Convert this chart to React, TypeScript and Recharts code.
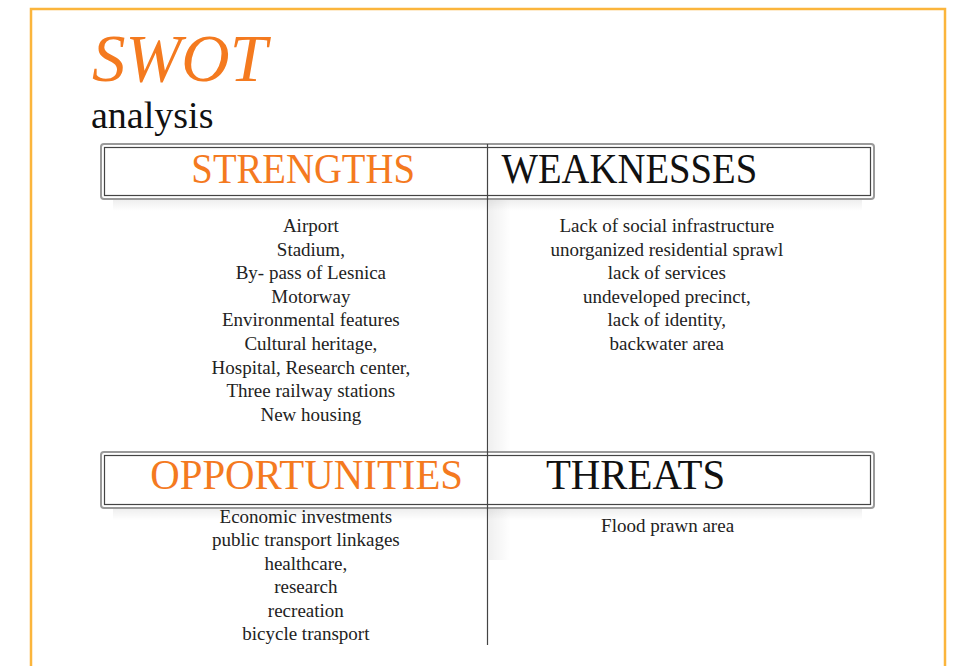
import React from "react";
import {
  ScatterChart,
  Scatter,
  XAxis,
  YAxis,
  ReferenceArea,
  ReferenceLine,
  Customized,
} from "recharts";

// quadrant content
const strengths = [
  "Airport",
  "Stadium,",
  "By- pass of Lesnica",
  "Motorway",
  "Environmental features",
  "Cultural heritage,",
  "Hospital, Research center,",
  "Three railway stations",
  "New housing",
];
const weaknesses = [
  "Lack of social infrastructure",
  "unorganized residential sprawl",
  "lack of services",
  "undeveloped precinct,",
  "lack of identity,",
  "backwater area",
];
const opportunities = [
  "Economic investments",
  "public transport linkages",
  "healthcare,",
  "research",
  "recreation",
  "bicycle transport",
];
const threats = ["Flood prawn area"];

const quadrantTitles = ["STRENGTHS", "WEAKNESSES", "OPPORTUNITIES", "THREATS"];
const quadrantItems = [strengths, weaknesses, opportunities, threats];

const titleMain = "SWOT";
const titleSub = "analysis";

// layout (x in quadrant-column units 0..2, y in page rows)
const W = 953;
const H = 666;
const ORANGE = "#f47a1f";
const FRAME = "#fbb53c";
const FONT = "'Liberation Serif', 'Times New Roman', serif";

const headerRows = [
  { top: 144, bottom: 199, baseline: 183, squeeze: 0.9 },
  { top: 452, bottom: 508, baseline: 489, squeeze: 0.95 },
];
const headerX = [0.523, 1.367, 0.532, 1.383];
const itemX = [0.543, 1.464, 0.53, 1.466];
const itemTop = [232, 232, 523, 532];
const itemStep = [23.6, 23.6, 23.4, 23.4];

const headerData = quadrantTitles.map((label, i) => ({
  x: headerX[i],
  y: headerRows[Math.floor(i / 2)].baseline,
  label,
  row: Math.floor(i / 2),
  orange: i % 2 === 0,
}));

const itemData = quadrantItems.flatMap((list, q) =>
  list.map((label, i) => ({
    x: itemX[q],
    y: itemTop[q] + i * itemStep[q],
    label,
  }))
);

const HeaderText = (props: any) => {
  const { cx, cy, payload } = props;
  const s = headerRows[payload.row].squeeze;
  return (
    <text
      transform={`translate(${cx},${cy}) scale(${s},1)`}
      textAnchor="middle"
      fontFamily={FONT}
      fontSize={43}
      fill={payload.orange ? ORANGE : "#111"}
    >
      {payload.label}
    </text>
  );
};

const ItemText = (props: any) => {
  const { cx, cy, payload } = props;
  return (
    <text
      x={cx}
      y={cy}
      textAnchor="middle"
      fontFamily={FONT}
      fontSize={19}
      fill="#222"
    >
      {payload.label}
    </text>
  );
};

const HeaderBox = (props: any) => {
  const { x, y, width, height } = props;
  return (
    <g>
      <rect x={x + 12} y={y + height} width={width - 24} height={12} fill="url(#shadowDown)" />
      <rect x={x} y={y} width={width} height={height} rx={3} fill="#fff" stroke="#9a9a9a" strokeWidth={2} />
      <rect x={x + 3.5} y={y + 3.5} width={width - 7} height={height - 7} fill="none" stroke="#444" strokeWidth={1.2} />
    </g>
  );
};

const Decor = () => (
  <g>
    <defs>
      <linearGradient id="shadowDown" x1="0" y1="0" x2="0" y2="1">
        <stop offset="0%" stopColor="#000" stopOpacity={0.07} />
        <stop offset="100%" stopColor="#000" stopOpacity={0} />
      </linearGradient>
      <linearGradient id="shadowRight" x1="0" y1="0" x2="1" y2="0">
        <stop offset="0%" stopColor="#000" stopOpacity={0.06} />
        <stop offset="100%" stopColor="#000" stopOpacity={0} />
      </linearGradient>
    </defs>
    <rect x={31} y={9} width={914} height={H + 20} fill="none" stroke={FRAME} strokeWidth={2.5} />
    <rect x={489} y={200} width={22} height={360} fill="url(#shadowRight)" />
    <text x={92} y={81} fontFamily={FONT} fontStyle="italic" fontSize={67} fill={ORANGE}>
      {titleMain}
    </text>
    <text x={91} y={128} fontFamily={FONT} fontSize={38} fill="#111">
      {titleSub}
    </text>
  </g>
);

export default function App() {
  return (
    <div style={{ position: "fixed", left: 0, top: 0, background: "#fff" }}>
      <ScatterChart width={W} height={H} margin={{ top: 0, right: 79, bottom: 0, left: 101 }}>
        <XAxis type="number" dataKey="x" domain={[0, 2]} hide />
        <YAxis type="number" dataKey="y" domain={[0, H]} reversed hide />
        <Customized component={Decor} />
        {headerRows.map((r, i) => (
          <ReferenceArea
            key={i}
            x1={0}
            x2={2}
            y1={r.top}
            y2={r.bottom}
            shape={<HeaderBox />}
            ifOverflow="visible"
          />
        ))}
        <ReferenceLine
          segment={[
            { x: 1, y: headerRows[0].top },
            { x: 1, y: 645 },
          ]}
          stroke="#444"
          strokeWidth={1.2}
        />
        <Scatter data={headerData} shape={<HeaderText />} isAnimationActive={false} />
        <Scatter data={itemData} shape={<ItemText />} isAnimationActive={false} />
      </ScatterChart>
    </div>
  );
}
